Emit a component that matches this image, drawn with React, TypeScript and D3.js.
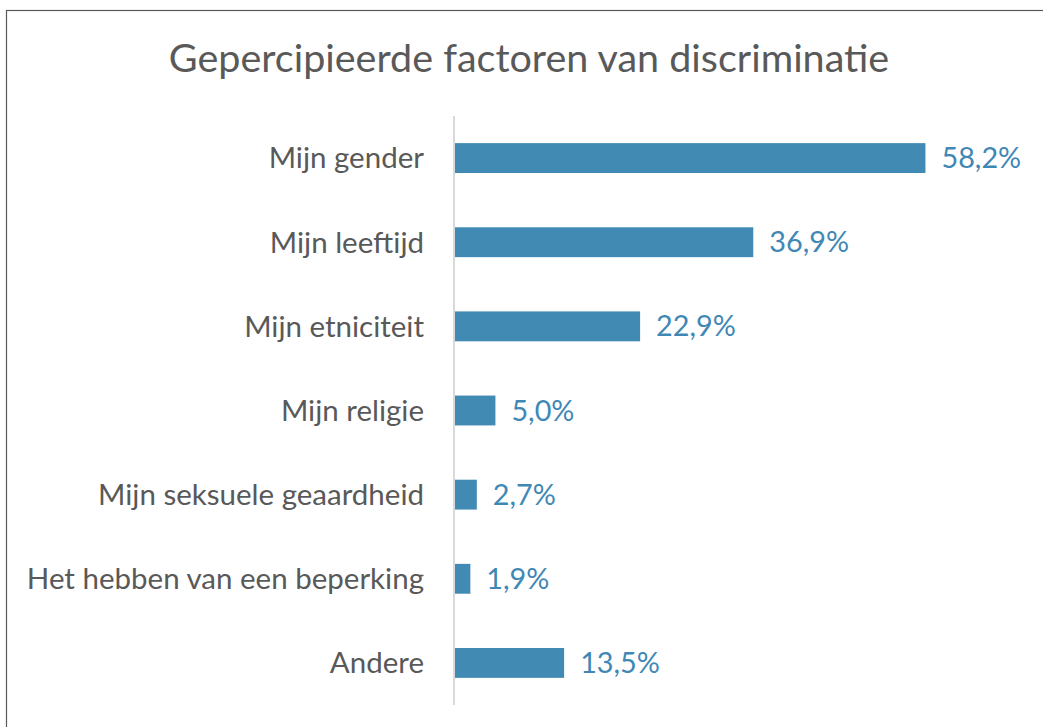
import React, { useEffect, useRef } from 'react'
import * as d3 from 'd3'

const categories = [
  'Mijn gender',
  'Mijn leeftijd',
  'Mijn etniciteit',
  'Mijn religie',
  'Mijn seksuele geaardheid',
  'Het hebben van een beperking',
  'Andere',
]
const values = [58.2, 36.9, 22.9, 5.0, 2.7, 1.9, 13.5]
const title = 'Gepercipieerde factoren van discriminatie'

const font = 'Lato, "Open Sans", sans-serif'

export default function App() {
  const ref = useRef<SVGSVGElement | null>(null)

  useEffect(() => {
    const svg = d3.select(ref.current)
    svg.selectAll('*').remove()

    const width = 1043
    const height = 727

    // chart frame (extends past the right / bottom edge like the screenshot)
    svg.append('rect')
      .attr('x', 6.5)
      .attr('y', 10.5)
      .attr('width', width + 20)
      .attr('height', height + 20)
      .attr('fill', 'white')
      .attr('stroke', '#595959')
      .attr('stroke-width', 1.2)

    svg.append('text')
      .attr('x', 529)
      .attr('y', 72)
      .attr('text-anchor', 'middle')
      .attr('font-family', font)
      .attr('font-size', 39.5)
      .attr('fill', '#595959')
      .text(title)

    const x = d3.scaleLinear().domain([0, 60]).range([455, 940])
    const y = d3.scaleBand<string>()
      .domain(categories)
      .range([116, 705])
      .paddingInner(0.645)
      .paddingOuter(0.3225)

    const g = svg.append('g')

    g.selectAll('rect.bar')
      .data(values)
      .enter().append('rect')
      .attr('class', 'bar')
      .attr('x', x(0))
      .attr('y', (d, i) => y(categories[i])!)
      .attr('width', d => x(d) - x(0))
      .attr('height', y.bandwidth())
      .attr('fill', '#418ab3')

    // axis line
    svg.append('line')
      .attr('x1', x(0) - 1)
      .attr('x2', x(0) - 1)
      .attr('y1', 116)
      .attr('y2', 705)
      .attr('stroke', '#d9d9d9')
      .attr('stroke-width', 2)

    g.selectAll('text.cat')
      .data(categories)
      .enter().append('text')
      .attr('class', 'cat')
      .attr('x', 424)
      .attr('y', d => y(d)! + y.bandwidth() / 2)
      .attr('dy', '0.35em')
      .attr('text-anchor', 'end')
      .attr('font-family', font)
      .attr('font-size', 29.5)
      .attr('fill', '#595959')
      .text(d => d)

    g.selectAll('text.val')
      .data(values)
      .enter().append('text')
      .attr('class', 'val')
      .attr('x', d => x(d) + 16)
      .attr('y', (d, i) => y(categories[i])! + y.bandwidth() / 2)
      .attr('dy', '0.35em')
      .attr('font-family', font)
      .attr('font-size', 28.8)
      .attr('fill', '#3f88b5')
      .text(d => d.toFixed(1).replace('.', ',') + '%')
  }, [])

  return (
    <svg ref={ref} width={1043} height={727} style={{ position: 'absolute', left: 0, top: 0 }} />
  )
}
